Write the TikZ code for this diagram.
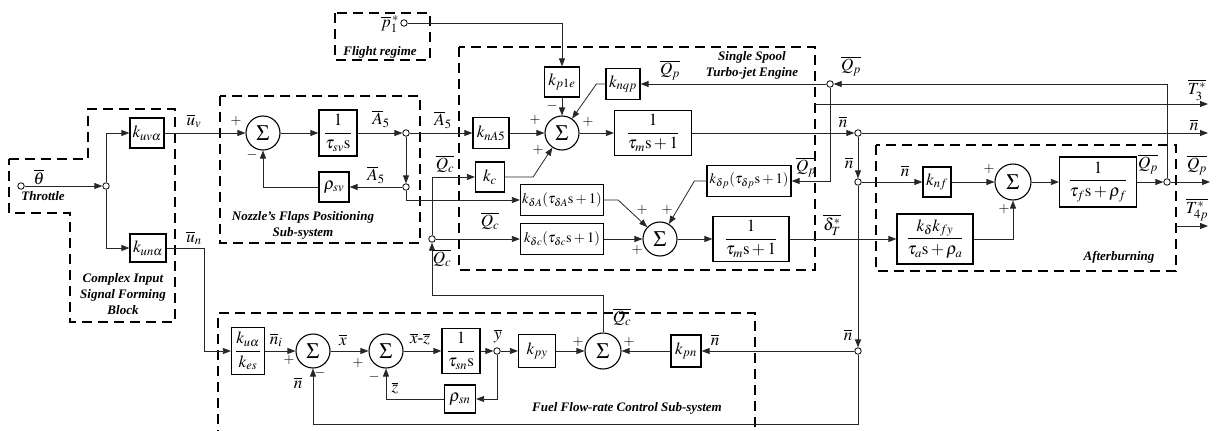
\documentclass[tikz,border=0pt]{standalone}
\usepackage{amsmath}
\usepackage{mathptmx}
\usepackage[no-math]{fontspec}
\setmainfont{Liberation Serif}
\usetikzlibrary{arrows.meta}
\tikzset{
  blk/.style={draw, line width=1.2pt, fill=white, inner sep=0.5pt, font=\fontsize{17}{19}\selectfont},
  sumc/.style={draw, circle, line width=1.1pt, minimum size=34pt, inner sep=0pt, font=\fontsize{22}{24}\selectfont},
  dot/.style={draw, circle, fill=white, minimum size=6.5pt, inner sep=0pt, line width=0.8pt},
  sig/.style={-{Triangle[length=8pt,width=6pt]}, line width=0.8pt, black!85},
  frame/.style={line width=1.6pt, dash pattern=on 10pt off 6pt},
  ttl/.style={font=\fontsize{13}{16}\selectfont\bfseries\itshape, align=center, inner sep=0pt},
  lbl/.style={font=\fontsize{17}{19}\selectfont, inner sep=0pt},
  sgn/.style={font=\fontsize{14}{16}\selectfont, inner sep=0pt},
  small/.style={font=\fontsize{14.5}{16}\selectfont},
}
\begin{document}
\begin{tikzpicture}[x=1pt, y=-1pt]
  \useasboundingbox (0,0) rectangle (1216,431);

  % dashed sub-system frames
  \draw[frame] (9,159) -- (88,159) -- (88,109) -- (175,109) -- (175,322) -- (70,322) -- (70,213) -- (9,213) -- cycle;
  \draw[frame] (335,13) rectangle (430,60);
  \draw[frame] (220,96) rectangle (420,243);
  \draw[frame] (459,47) rectangle (815,270);
  \draw[frame] (876,145) rectangle (1176,271);
  \draw[frame] (218,440) -- (218,313) -- (755,313) -- (755,440);

  % frame titles
  \node[ttl] at (43,196) {Throttle};
  \node[ttl] at (123,294) {Complex Input\\Signal Forming\\Block};
  \node[ttl] at (380,52) {Flight regime};
  \node[ttl] at (303,225) {Nozzle's Flaps Positioning\\Sub-system};
  \node[ttl] at (752,65) {Single Spool\\Turbo-jet Engine};
  \node[ttl] at (1119,257) {Afterburning};
  \node[ttl] at (627,408) {Fuel Flow-rate Control Sub-system};

  % input forming
  \node[dot] (thin) at (21,186) {};
  \node[dot] (jth) at (106,186) {};
  \node[blk, minimum width=34pt, minimum height=30pt] (kuv) at (147,133) {$k_{uv\alpha}$};
  \node[blk, minimum width=36pt, minimum height=28pt] (kun) at (148,248) {$k_{un\alpha}$};

  % nozzle flaps
  \node[sumc] (s1) at (263,133) {$\Sigma$};
  \node[blk, minimum width=38pt, minimum height=46pt] (tsv) at (338,133) {$\dfrac{1}{\tau_{sv}\mathrm{s}}$};
  \node[dot] (jA1) at (406,133) {};
  \node[dot] (jA2) at (406,187) {};
  \node[blk, minimum width=30pt, minimum height=30pt] (rsv) at (334,187) {$\rho_{sv}$};

  % engine
  \node[dot] (p1) at (404,23) {};
  \node[blk, minimum width=35pt, minimum height=30pt] (kp1e) at (562,82) {$k_{p1e}$};
  \node[blk, minimum width=34pt, minimum height=31pt] (knqp) at (623,84) {$k_{nqp}$};
  \node[blk, minimum width=36pt, minimum height=31pt] (knA5) at (491,133) {$k_{nA5}$};
  \node[sumc] (sE1) at (562,133) {$\Sigma$};
  \node[blk, minimum width=77pt, minimum height=45pt] (tm1) at (653,133) {$\dfrac{1}{\tau_m\mathrm{s}+1}$};
  \node[blk, minimum width=29pt, minimum height=30pt] (kc) at (490,177) {$k_c$};
  \node[blk, small, minimum width=83pt, minimum height=31pt] (kdA) at (562,200) {$k_{\delta A}(\tau_{\delta A}\mathrm{s}+1)$};
  \node[blk, small, minimum width=83pt, minimum height=31pt] (kdc) at (562,239) {$k_{\delta c}(\tau_{\delta c}\mathrm{s}+1)$};
  \node[blk, small, minimum width=84pt, minimum height=31pt] (kdp) at (749,181) {$k_{\delta p}(\tau_{\delta p}\mathrm{s}+1)$};
  \node[sumc] (s2) at (660,239) {$\Sigma$};
  \node[blk, minimum width=76pt, minimum height=45pt] (tm2) at (751,239) {$\dfrac{1}{\tau_m\mathrm{s}+1}$};
  \node[dot] (jQc) at (432,239) {};
  \node[dot] (jQp1) at (830,84) {};
  \node[dot] (jn1) at (858,133) {};
  \node[dot] (jn2) at (858,182) {};

  % afterburning
  \node[blk, minimum width=28pt, minimum height=30pt] (knf) at (937,182) {$k_{nf}$};
  \node[sumc, minimum size=36pt] (s5) at (1013,182) {$\Sigma$};
  \node[blk, minimum width=77pt, minimum height=50pt] (tf) at (1098,182) {$\dfrac{1}{\tau_f\mathrm{s}+\rho_f}$};
  \node[blk, minimum width=76pt, minimum height=50pt] (kdkf) at (935,239) {$\dfrac{k_\delta k_{fy}}{\tau_a\mathrm{s}+\rho_a}$};
  \node[dot] (jQp2) at (1167,182) {};

  % fuel flow-rate control
  \node[blk, minimum width=33pt, minimum height=47pt] (kues) at (248,351) {$\dfrac{k_{u\alpha}}{k_{es}}$};
  \node[sumc] (sA) at (313,351) {$\Sigma$};
  \node[sumc] (sB) at (386,351) {$\Sigma$};
  \node[blk, minimum width=38pt, minimum height=45pt] (tsn) at (461,351) {$\dfrac{1}{\tau_{sn}\mathrm{s}}$};
  \node[dot] (jy) at (497,351) {};
  \node[blk, minimum width=31pt, minimum height=28pt] (rsn) at (460,399) {$\rho_{sn}$};
  \node[blk, minimum width=37pt, minimum height=33pt] (kpy) at (537,351) {$k_{py}$};
  \node[sumc, minimum size=36pt] (sC) at (603,351) {$\Sigma$};
  \node[blk, minimum width=30pt, minimum height=32pt] (kpn) at (686,351) {$k_{pn}$};
  \node[dot] (jn3) at (858,351) {};

  % free ends
  \coordinate (nout) at (1208,133);
  \coordinate (Qpout) at (1210,182);
  \coordinate (T3a) at (815,104);
  \coordinate (T3b) at (1208,104);
  \coordinate (T4a) at (1176,226);
  \coordinate (T4b) at (1208,226);

  % connectors
  \draw[sig] (thin) -- (jth);
  \draw[sig] (jth) |- (kuv);
  \draw[sig] (jth) |- (kun);
  \draw[sig] (kuv) -- (s1);
  \draw[sig] (s1) -- (tsv);
  \draw[sig] (tsv) -- (jA1);
  \draw[sig] (jA1) -- (jA2);
  \draw[sig] (jA2) -- (rsv);
  \draw[sig] (rsv) -| (s1);
  \draw[sig] (jA1) -- (knA5);
  \draw[sig] (jA2) |- (kdA);
  \draw[sig] (p1) -| (kp1e);
  \draw[sig] (kp1e) -- (sE1);
  \draw[sig] (knA5) -- (sE1);
  \draw[sig] (knqp.west) -- ++(-9,0) -- (sE1);
  \draw[sig] (kc.east) -- ++(28,0) -- (sE1);
  \draw[sig] (sE1) -- (tm1);
  \draw[sig] (tm1) -- (jn1);
  \draw[sig] (jn1) -- (nout);
  \draw[sig] (jn1) -- (jn2);
  \draw[sig] (jn2) -- (jn3);
  \draw[sig] (jQc) |- (kc);
  \draw[sig] (jQc) -- (kdc);
  \draw[sig] (kdA.east) -- ++(14,0) -- (s2);
  \draw[sig] (kdp.west) -- ++(-12,0) -- (s2);
  \draw[sig] (kdc) -- (s2);
  \draw[sig] (s2) -- (tm2);
  \draw[sig] (tm2) -- (kdkf);
  \draw[sig] (jQp1) -- (knqp);
  \draw[sig] (jQp1) |- (kdp);
  \draw[sig] (T3a) -- (T3b);
  \draw[sig] (jn2) -- (knf);
  \draw[sig] (knf) -- (s5);
  \draw[sig] (kdkf) -| (s5);
  \draw[sig] (s5) -- (tf);
  \draw[sig] (tf) -- (jQp2);
  \draw[sig] (jQp2) -- (Qpout);
  \draw[sig] (jQp2) |- (jQp1);
  \draw[sig] (T4a) -- (T4b);
  \draw[sig] (kun.east) -- ++(38,0) |- (kues);
  \draw[sig] (kues) -- (sA);
  \draw[sig] (sA) -- (sB);
  \draw[sig] (sB) -- (tsn);
  \draw[sig] (tsn) -- (jy);
  \draw[sig] (jy) -- (kpy);
  \draw[sig] (jy) |- (rsn);
  \draw[sig] (rsn) -| (sB);
  \draw[sig] (kpy) -- (sC);
  \draw[sig] (jn3) -- (kpn);
  \draw[sig] (kpn) -- (sC);
  \draw[sig] (jn3) -- ++(0,73) -| (sA);
  \draw[sig] (sC.north) -- ++(0,-37) -| (jQc);

  % signal labels
  \node[lbl] at (39,177) {$\overline{\theta}$};
  \node[lbl] at (194,121) {$\overline{u}_v$};
  \node[lbl] at (194,238) {$\overline{u}_n$};
  \node[lbl] at (381,119) {$\overline{A}_5$};
  \node[lbl] at (376,175) {$\overline{A}_5$};
  \node[lbl] at (443,120) {$\overline{A}_5$};
  \node[lbl] at (390,24) {$\overline{p}_1^{\,*}$};
  \node[lbl] at (445,164) {$\overline{Q_c}$};
  \node[lbl] at (490,221) {$\overline{Q_c}$};
  \node[lbl] at (442,258) {$\overline{Q_c}$};
  \node[lbl] at (670,70) {$\overline{Q_p}$};
  \node[lbl] at (851,66) {$\overline{Q_p}$};
  \node[lbl] at (806,167) {$\overline{Q_p}$};
  \node[lbl] at (843,122) {$\overline{n}$};
  \node[lbl] at (849,163) {$\overline{n}$};
  \node[lbl] at (832,225) {$\overline{\delta_T^*}$};
  \node[lbl] at (1197,90) {$\overline{T_3^*}$};
  \node[lbl] at (1194,125) {$\overline{n}$};
  \node[lbl] at (1197,165) {$\overline{Q_p}$};
  \node[lbl] at (1197,210) {$\overline{T_{4p}^*}$};
  \node[lbl] at (905,171) {$\overline{n}$};
  \node[lbl] at (1148,164) {$\overline{Q_p}$};
  \node[lbl] at (276,340) {$\overline{n}_i$};
  \node[lbl] at (298,383) {$\overline{n}$};
  \node[lbl] at (343,340) {$\overline{x}$};
  \node[lbl] at (420,339) {$\overline{x}\text{-}\overline{z}$};
  \node[lbl] at (498,336) {$\overline{y}$};
  \node[lbl] at (395,388) {$\overline{z}$};
  \node[lbl] at (622,317) {$\overline{Q_c}$};
  \node[lbl] at (715,340) {$\overline{n}$};
  \node[lbl] at (848,335) {$\overline{n}$};

  % summing signs
  \node[sgn] at (236,121) {$+$};
  \node[sgn] at (252,155) {$-$};
  \node[sgn] at (552,106) {$-$};
  \node[sgn] at (535,120) {$+$};
  \node[sgn] at (588,122) {$+$};
  \node[sgn] at (538,150) {$+$};
  \node[sgn] at (642,210) {$+$};
  \node[sgn] at (667,210) {$+$};
  \node[sgn] at (637,250) {$+$};
  \node[sgn] at (989,169) {$+$};
  \node[sgn] at (1004,209) {$+$};
  \node[sgn] at (289,360) {$+$};
  \node[sgn] at (320,373) {$-$};
  \node[sgn] at (358,363) {$+$};
  \node[sgn] at (374,377) {$-$};
  \node[sgn] at (578,342) {$+$};
  \node[sgn] at (629,342) {$+$};
\end{tikzpicture}
\end{document}
